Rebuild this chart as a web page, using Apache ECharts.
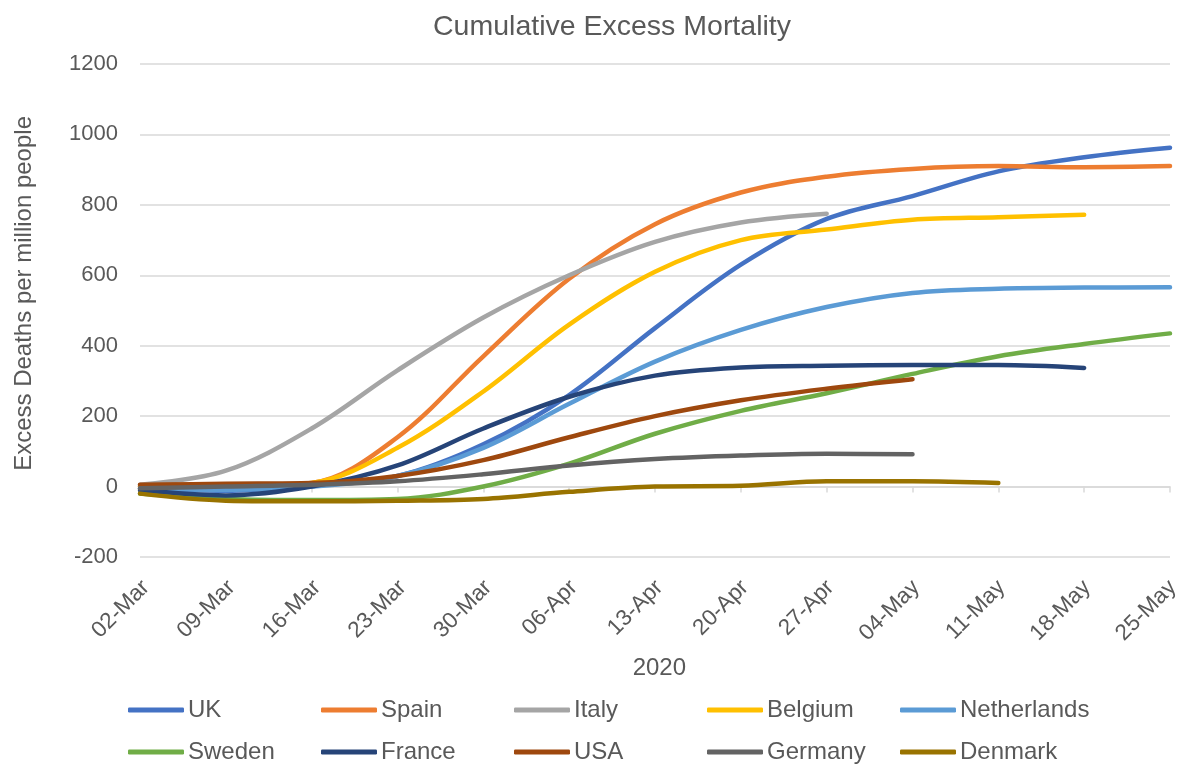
<!DOCTYPE html>
<html>
<head>
<meta charset="utf-8">
<title>Cumulative Excess Mortality</title>
<script src="https://cdn.jsdelivr.net/npm/echarts@6/dist/echarts.min.js"></script>
<style>
  html, body { margin: 0; padding: 0; background: #ffffff; }
  #chart { width: 1183px; height: 764px; }
</style>
</head>
<body>
<div id="chart"></div>
<script>
// Weekly dates (2020)
const weeks = ['02-Mar', '09-Mar', '16-Mar', '23-Mar', '30-Mar', '06-Apr', '13-Apr',
               '20-Apr', '27-Apr', '04-May', '11-May', '18-May', '25-May'];

// Cumulative excess deaths per million people, one value per week
const uk          = [-5, -12, 5, 30, 120, 260, 450, 630, 760, 825, 895, 935, 962];
const spain       = [0, 0, 10, 140, 370, 590, 745, 835, 880, 902, 910, 907, 910];
const italy       = [5, 45, 165, 330, 480, 600, 695, 750, 775];
const belgium     = [0, 0, 10, 110, 270, 460, 610, 700, 730, 758, 765, 772];
const netherlands = [-5, -10, 0, 30, 110, 235, 355, 445, 510, 550, 562, 565, 566];
const sweden      = [-20, -35, -38, -35, 0, 65, 150, 215, 265, 320, 370, 405, 435];
const france      = [-10, -25, 0, 60, 165, 255, 315, 338, 343, 345, 345, 337];
const usa         = [5, 8, 10, 30, 75, 140, 200, 245, 278, 305];
const germany     = [-5, 0, 5, 15, 35, 60, 78, 88, 93, 92];
const denmark     = [-20, -40, -42, -40, -35, -15, 0, 2, 15, 15, 10];

const countries = [
  { name: 'UK',          data: uk,          color: '#4472C4' },
  { name: 'Spain',       data: spain,       color: '#ED7D31' },
  { name: 'Italy',       data: italy,       color: '#A5A5A5' },
  { name: 'Belgium',     data: belgium,     color: '#FFC000' },
  { name: 'Netherlands', data: netherlands, color: '#5B9BD5' },
  { name: 'Sweden',      data: sweden,      color: '#70AD47' },
  { name: 'France',      data: france,      color: '#264478' },
  { name: 'USA',         data: usa,         color: '#9E480E' },
  { name: 'Germany',     data: germany,     color: '#636363' },
  { name: 'Denmark',     data: denmark,     color: '#997300' }
];

const FONT = '"Liberation Sans", Arial, sans-serif';
const TEXT = '#595959';
const GRID_LINE = '#d9d9d9';

const chart = echarts.init(document.getElementById('chart'), null, { renderer: 'canvas' });

// Legend laid out as a table: five columns, two rows
const legendCols = [128, 321, 514, 707, 900];
const legendRows = [698, 740];
const legends = countries.map((c, i) => ({
  left: legendCols[i % 5],
  top: legendRows[Math.floor(i / 5)],
  padding: 0,
  data: [c.name],
  icon: 'roundRect',
  itemWidth: 56,
  itemHeight: 5,
  selectedMode: false,
  textStyle: { fontFamily: FONT, fontSize: 24, color: TEXT, padding: [0, 0, 0, -1] }
}));

const option = {
  backgroundColor: '#ffffff',
  animation: false,
  title: {
    text: 'Cumulative Excess Mortality',
    left: 607,
    top: 8,
    textAlign: 'center',
    textStyle: { fontFamily: FONT, fontSize: 28.5, fontWeight: 'normal', color: TEXT }
  },
  legend: legends,
  grid: [
    // plotting area
    { left: 140, right: 13, top: 64, bottom: 207, containLabel: false },
    // carries the date labels, set slightly to the right of the ticks
    { left: 146, right: 7, top: 64, bottom: 207, containLabel: false }
  ],
  xAxis: [
    {
      // category axis line with tick marks drawn along the zero line
      type: 'category',
      gridIndex: 0,
      data: weeks,
      boundaryGap: false,
      position: 'bottom',
      axisLine: { show: true, onZero: true, lineStyle: { color: GRID_LINE, width: 1.5 } },
      axisTick: { show: true, length: 6, lineStyle: { color: GRID_LINE, width: 1.5 } },
      axisLabel: { show: false },
      splitLine: { show: false }
    },
    {
      type: 'category',
      gridIndex: 1,
      data: weeks,
      boundaryGap: false,
      position: 'bottom',
      name: '2020',
      nameLocation: 'middle',
      nameGap: 99,
      nameTextStyle: { fontFamily: FONT, fontSize: 24, color: TEXT },
      axisLine: { show: false, onZero: false },
      axisTick: { show: false },
      axisLabel: {
        rotate: 45,
        margin: 27,
        fontFamily: FONT,
        fontSize: 22.5,
        color: TEXT
      },
      splitLine: { show: false }
    }
  ],
  yAxis: [
    {
      type: 'value',
      gridIndex: 0,
      min: -200,
      max: 1200,
      interval: 200,
      axisLine: { show: false },
      axisTick: { show: false },
      axisLabel: {
        margin: 22,
        fontFamily: FONT,
        fontSize: 22,
        color: TEXT,
        formatter: v => String(v)
      },
      splitLine: { show: true, lineStyle: { color: GRID_LINE, width: 1.5 } }
    },
    {
      type: 'value',
      gridIndex: 1,
      min: -200,
      max: 1200,
      interval: 200,
      show: false
    }
  ],
  graphic: [
    {
      type: 'text',
      left: 12,
      top: 116,
      rotation: Math.PI / 2,
      style: {
        text: 'Excess Deaths per million people',
        fontFamily: FONT,
        fontSize: 24,
        fill: TEXT
      }
    }
  ],
  series: countries.map(c => ({
    name: c.name,
    type: 'line',
    xAxisIndex: 0,
    yAxisIndex: 0,
    data: c.data,
    smooth: 0.35,
    symbol: 'none',
    showSymbol: false,
    color: c.color,
    lineStyle: { width: 4.5, color: c.color, cap: 'round', join: 'round' },
    emphasis: { disabled: true }
  }))
};

chart.setOption(option);
</script>
</body>
</html>
